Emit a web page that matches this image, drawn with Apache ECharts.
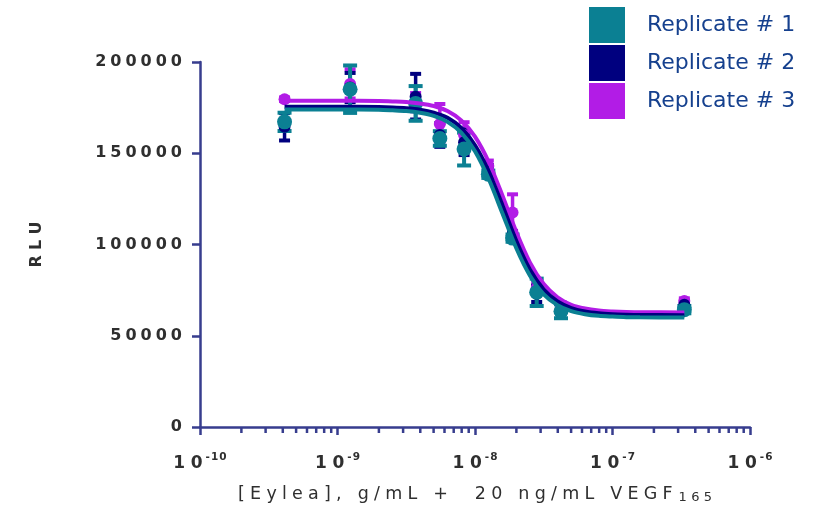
<!DOCTYPE html>
<html>
<head>
<meta charset="utf-8">
<script src="https://cdn.jsdelivr.net/npm/echarts@6/dist/echarts.min.js"></script>
<style>
  html, body { margin: 0; padding: 0; background: #ffffff; }
  #chart { width: 819px; height: 517px; }
</style>
</head>
<body>
<div id="chart"></div>
<script>
// ---- data ----
const seriesNames = ['Replicate # 1', 'Replicate # 2', 'Replicate # 3'];
const concentrations = [4.12e-10, 1.235e-9, 3.7e-9, 5.55e-9, 8.33e-9, 1.25e-8, 1.875e-8, 2.81e-8, 4.22e-8, 3.33e-7];
const rep1Mean = [167200, 185100, 177300, 158100, 152300, 138500, 103500, 73800, 63400, 64300];
const rep1Sd   = [5000, 13000, 9500, 4000, 9000, 2000, 2000, 7500, 3800, 2000];
const rep2Mean = [164500, 186000, 181000, 160000, 156000, 140000, 105000, 73000, 64000, 67000];
const rep2Sd   = [7500, 8000, 12500, 6500, 7000, 3500, 2000, 4500, 2000, 1500];
const rep3Mean = [179600, 188000, 178000, 166000, 160000, 143000, 117500, 76000, 65500, 69000];
const rep3Sd   = [1000, 8000, 5000, 11000, 7000, 3000, 10000, 3000, 3000, 1500];

// fitted curves
const curveX = [4.12e-10, 1e-9, 1.995e-9, 2.512e-9, 3.162e-9, 3.981e-9, 5.012e-9, 6.31e-9, 7.943e-9, 1e-8,
                1.259e-8, 1.585e-8, 1.995e-8, 2.512e-8, 3.162e-8, 3.981e-8, 5.012e-8, 6.31e-8, 7.943e-8, 1e-7,
                1.259e-7, 1.585e-7, 3.33e-7];
const fit1 = [174000, 173970, 173800, 173500, 173100, 172200, 170500, 167200, 161300, 151100,
              135900, 117000, 98100, 82900, 72700, 66800, 63500, 61800, 60900, 60500,
              60200, 60100, 60000];
const fit2 = [175500, 175480, 175300, 175100, 174700, 173900, 172300, 169400, 163900, 154400,
              140000, 121400, 102100, 86200, 75300, 68800, 65200, 63300, 62300, 61800,
              61550, 61400, 61300];
const fit3 = [178800, 178780, 178600, 178400, 178100, 177300, 175900, 173100, 168000, 159100,
              145200, 126700, 107000, 90100, 78300, 71100, 67000, 64900, 63800, 63300,
              63000, 62900, 62700];

// axis ticks
const xTickExponents = ['-10', '-9', '-8', '-7', '-6'];
const minorMultipliers = [2, 3, 4, 5, 6, 7, 8, 9];
const minorDecades = [1e-10, 1e-9, 1e-8, 1e-7];
const yTicks = [0, 50000, 100000, 150000, 200000];

const xTitle = '[Eylea], g/mL +  20 ng/mL VEGF';
const xTitleSub = '165';
const yTitle = 'RLU';

// ---- styling ----
const colors = ['#0b8093', '#00007f', '#b21ce6'];
const axisColor = '#373d8e';
const labelColor = '#2f2f2f';
const FONT = 'DejaVu Sans';

const spaced = (s, gap) => s.split('').join(gap);

const minorTickData = [];
minorDecades.forEach(d => minorMultipliers.forEach(m => minorTickData.push([m * d, 0])));

function errRender(color, capW, lw) {
  return function (params, api) {
    const x = api.value(0), m = api.value(1), s = api.value(2);
    const hi = api.coord([x, m + s]);
    const lo = api.coord([x, m - s]);
    return {
      type: 'group',
      children: [
        { type: 'line', shape: { x1: hi[0], y1: hi[1], x2: lo[0], y2: lo[1] }, style: { stroke: color, lineWidth: lw } },
        { type: 'line', shape: { x1: hi[0] - capW / 2, y1: hi[1], x2: hi[0] + capW / 2, y2: hi[1] }, style: { stroke: color, lineWidth: 4 } },
        { type: 'line', shape: { x1: lo[0] - capW / 2, y1: lo[1], x2: lo[0] + capW / 2, y2: lo[1] }, style: { stroke: color, lineWidth: 4 } }
      ]
    };
  };
}

const reps = [
  { mean: rep1Mean, sd: rep1Sd, fit: fit1, size: 15, cap: 14, lw: 4 },
  { mean: rep2Mean, sd: rep2Sd, fit: fit2, size: 12, cap: 11, lw: 3.5 },
  { mean: rep3Mean, sd: rep3Sd, fit: fit3, size: 12, cap: 11, lw: 3.5 }
];

const series = [];
// draw order: replicate 3 (bottom), 2, 1 (top)
[2, 1, 0].forEach(i => {
  const r = reps[i];
  series.push({
    type: 'line', name: 'fit' + i, data: curveX.map((x, k) => [x, r.fit[k]]),
    smooth: 0.3, showSymbol: false, symbol: 'none',
    lineStyle: { color: colors[i], width: 4 }, silent: true
  });
  series.push({
    type: 'custom', name: 'err' + i, renderItem: errRender(colors[i], r.cap, r.lw),
    data: concentrations.map((x, k) => [x, r.mean[k], r.sd[k]]),
    encode: { x: 0, y: 1 }, silent: true
  });
  series.push({
    type: 'scatter', name: seriesNames[i], data: concentrations.map((x, k) => [x, r.mean[k]]),
    symbol: 'circle', symbolSize: r.size, itemStyle: { color: colors[i], opacity: 1 }
  });
});
series.push({
  type: 'custom', name: 'minorTicks', silent: true, data: minorTickData,
  renderItem: function (params, api) {
    const p = api.coord([api.value(0), 0]);
    return { type: 'line', shape: { x1: p[0], y1: p[1], x2: p[0], y2: p[1] + 6 }, style: { stroke: axisColor, lineWidth: 2.5 } };
  },
  encode: { x: 0, y: 1 }
});

const chart = echarts.init(document.getElementById('chart'), null, { renderer: 'canvas' });
chart.setOption({
  animation: false,
  backgroundColor: '#ffffff',
  grid: { left: 200, right: 69, top: 62, bottom: 90 },
  legend: {
    orient: 'vertical', left: 589, top: 7, padding: 0,
    itemWidth: 36, itemHeight: 36, itemGap: 2,
    selectedMode: false,
    data: seriesNames.map((n, i) => ({ name: n, icon: 'rect', itemStyle: { color: colors[i] } })),
    textStyle: { fontFamily: FONT, fontSize: 22, color: '#15408e', padding: [0, 0, 0, 17] }
  },
  xAxis: {
    type: 'log', logBase: 10, min: 1e-10, max: 1e-6,
    axisLine: { show: true, lineStyle: { color: axisColor, width: 2.5 } },
    axisTick: { show: true, length: 8, lineStyle: { color: axisColor, width: 2.5 } },
    splitLine: { show: false },
    minorTick: { show: false },
    axisLabel: {
      margin: 25,
      formatter: function (v) {
        const e = Math.round(Math.log10(v));
        const lab = xTickExponents.find(t => Number(t) === e) || String(e);
        return '{b|' + spaced('10', '\u2004') + '}{s|' + spaced(lab, '\u200A') + '}';
      },
      rich: {
        b: { fontFamily: FONT, fontSize: 17, fontWeight: 'bold', color: labelColor, lineHeight: 24 },
        s: { fontFamily: FONT, fontSize: 10.5, fontWeight: 'bold', color: labelColor, lineHeight: 12, verticalAlign: 'top', padding: [0, 0, 0, 3] }
      }
    },
    name: '{t|' + spaced(xTitle, '\u2009\u200A') + '}{u|' + spaced(xTitleSub, '\u2004') + '}',
    nameLocation: 'middle', nameGap: 58,
    nameTextStyle: {
      rich: {
        t: { fontFamily: FONT, fontSize: 17.5, color: labelColor, lineHeight: 19, verticalAlign: 'top' },
        u: { fontFamily: FONT, fontSize: 13, color: labelColor, lineHeight: 14, verticalAlign: 'bottom', padding: [13, 0, 0, 6] }
      }
    }
  },
  yAxis: {
    type: 'value', min: yTicks[0], max: yTicks[yTicks.length - 1], interval: yTicks[1] - yTicks[0],
    axisLine: { show: true, lineStyle: { color: axisColor, width: 2.5 } },
    axisTick: { show: true, length: 8, lineStyle: { color: axisColor, width: 2.5 } },
    splitLine: { show: false },
    axisLabel: {
      margin: 18, fontFamily: FONT, fontSize: 16, fontWeight: 'bold', color: labelColor,
      formatter: v => spaced(String(v), '\u2005')
    },
    name: spaced(yTitle, '\u2004'), nameLocation: 'middle', nameGap: 155, nameRotate: 90,
    nameTextStyle: { fontFamily: FONT, fontSize: 16, fontWeight: 'bold', color: labelColor }
  },
  series: series
});
</script>
</body>
</html>
